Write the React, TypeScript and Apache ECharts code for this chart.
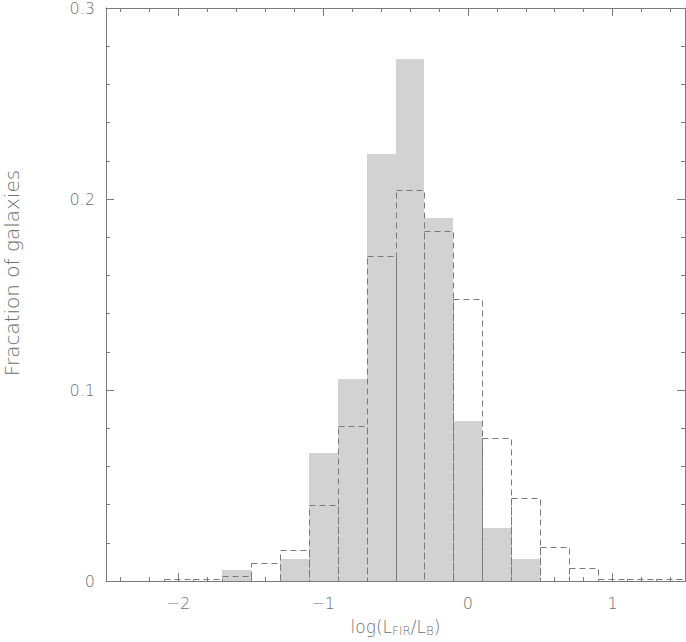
import React, { useEffect, useRef } from "react";
import * as echarts from "echarts";

// Histogram bin edges (log(L_FIR/L_B)), width 0.2
const binEdges = [-2.1, -1.9, -1.7, -1.5, -1.3, -1.1, -0.9, -0.7, -0.5, -0.3, -0.1, 0.1, 0.3, 0.5, 0.7, 0.9, 1.1, 1.3, 1.5];
// Filled (gray) histogram
const filledValues = [0, 0, 0.0055, 0, 0.0116, 0.067, 0.106, 0.2235, 0.2735, 0.1898, 0.0836, 0.0278, 0.0116, 0, 0, 0, 0, 0];
// Dashed histogram
const dashedValues = [0.001, 0.001, 0.0024, 0.0093, 0.016, 0.04, 0.081, 0.170, 0.2045, 0.183, 0.1477, 0.0748, 0.0434, 0.0176, 0.0067, 0.0013, 0.0013, 0.0013];

const xMajorTicks = [-2, -1, 0, 1];
const xMinorTicks = [-2.4, -2.2, -1.8, -1.6, -1.4, -1.2, -0.8, -0.6, -0.4, -0.2, 0.2, 0.4, 0.6, 0.8, 1.2, 1.4];
const xTitle = "log(L{sub|FIR}/L{sub|B})";
const yTitle = "Fracation of galaxies";

const AXIS_COLOR = "#7a7a7a";
const TEXT_COLOR = "#707070";
const FONT = "DejaVu Sans";
const WEIGHT = 200;

function toData(values: number[]) {
  return values.map((v, i) => [binEdges[i], binEdges[i + 1], v]);
}

export default function App() {
  const ref = useRef<HTMLDivElement>(null);
  useEffect(() => {
    if (!ref.current) return;
    const chart = echarts.init(ref.current, null, { renderer: "svg" });

    const snap = (v: number) => Math.round(v) + 0.5;

    const baseX = {
      type: "value" as const,
      min: -2.5,
      max: 1.5,
      splitLine: { show: false },
    };
    const lineOn = { show: true, onZero: false, lineStyle: { color: AXIS_COLOR, width: 1 } };
    const lineOff = { show: false, onZero: false };

    const option: any = {
      animation: false,
      backgroundColor: "#ffffff",
      grid: { left: 106, right: 1, top: 8, bottom: 55, containLabel: false },
      xAxis: [
        {
          ...baseX,
          position: "bottom",
          axisLine: lineOn,
          axisTick: { show: true, inside: true, length: 8, customValues: xMajorTicks, lineStyle: { color: AXIS_COLOR } },
          axisLabel: {
            show: true,
            customValues: xMajorTicks,
            margin: 14,
            fontSize: 16,
            fontFamily: FONT,
            fontWeight: WEIGHT,
            color: TEXT_COLOR,
            formatter: (v: number) => (v < 0 ? "\u2212" + Math.abs(v) : String(v)),
          },
          name: xTitle,
          nameLocation: "middle",
          nameGap: 35,
          nameTextStyle: {
            fontSize: 17,
            fontFamily: FONT,
            fontWeight: WEIGHT,
            color: TEXT_COLOR,
            rich: {
              sub: { fontSize: 12, fontFamily: FONT, fontWeight: WEIGHT, color: TEXT_COLOR, padding: [9, 0, 0, 0] },
            },
          },
        },
        {
          ...baseX,
          position: "bottom",
          axisLine: lineOff,
          axisTick: { show: true, inside: true, length: 4, customValues: xMinorTicks, lineStyle: { color: AXIS_COLOR } },
          axisLabel: { show: false },
        },
        {
          ...baseX,
          position: "top",
          axisLine: lineOn,
          axisTick: { show: true, inside: true, length: 8, customValues: xMajorTicks, lineStyle: { color: AXIS_COLOR } },
          axisLabel: { show: false },
        },
        {
          ...baseX,
          position: "top",
          axisLine: lineOff,
          axisTick: { show: true, inside: true, length: 4, customValues: xMinorTicks, lineStyle: { color: AXIS_COLOR } },
          axisLabel: { show: false },
        },
      ],
      yAxis: [
        {
          type: "value",
          position: "left",
          min: 0,
          max: 0.3,
          interval: 0.1,
          splitLine: { show: false },
          axisLine: lineOn,
          axisTick: { show: true, inside: true, length: 8, lineStyle: { color: AXIS_COLOR } },
          minorTick: { show: true, splitNumber: 5, length: 4, lineStyle: { color: AXIS_COLOR } },
          axisLabel: {
            margin: 11,
            fontSize: 16,
            fontFamily: FONT,
            fontWeight: WEIGHT,
            color: TEXT_COLOR,
            formatter: (v: number) => (v === 0 ? "0" : v.toFixed(1)),
          },
        },
        {
          type: "value",
          position: "right",
          min: 0,
          max: 0.3,
          interval: 0.1,
          splitLine: { show: false },
          axisLine: lineOn,
          axisTick: { show: true, inside: true, length: 8, lineStyle: { color: AXIS_COLOR } },
          minorTick: { show: true, splitNumber: 5, length: 4, lineStyle: { color: AXIS_COLOR } },
          axisLabel: { show: false },
        },
      ],
      graphic: [
        {
          type: "text",
          x: 12,
          y: 273,
          rotation: Math.PI / 2,
          style: {
            text: yTitle,
            fontSize: 20,
            fontFamily: FONT,
            fontWeight: WEIGHT,
            fill: TEXT_COLOR,
            align: "center",
            verticalAlign: "middle",
          },
        },
      ],
      series: [
        {
          type: "custom",
          xAxisIndex: 0,
          yAxisIndex: 0,
          encode: { x: [0, 1], y: 2 },
          data: toData(filledValues),
          z: 2,
          renderItem: (params: any, api: any) => {
            const v = api.value(2);
            if (!v) return null;
            const p0 = api.coord([api.value(0), v]);
            const p1 = api.coord([api.value(1), 0]);
            const x0 = Math.round(p0[0]);
            const x1 = Math.round(p1[0]);
            const y0 = Math.round(p0[1]);
            const y1 = Math.round(p1[1]);
            return {
              type: "rect",
              shape: { x: x0, y: y0, width: x1 - x0, height: y1 - y0 },
              style: { fill: "#d2d2d2", stroke: "none" },
            };
          },
        },
        {
          type: "custom",
          xAxisIndex: 0,
          yAxisIndex: 0,
          encode: { x: [0, 1], y: 2 },
          data: toData(dashedValues),
          z: 3,
          renderItem: (params: any, api: any) => {
            const v = api.value(2);
            const p0 = api.coord([api.value(0), v]);
            const p1 = api.coord([api.value(1), 0]);
            const x0 = snap(p0[0]);
            const x1 = snap(p1[0]);
            const y0 = snap(p0[1]);
            const y1 = snap(p1[1]);
            return {
              type: "rect",
              shape: { x: x0, y: y0, width: x1 - x0, height: y1 - y0 },
              style: { fill: "none", stroke: "#7a7a7a", lineWidth: 1, lineDash: [6, 4] },
            };
          },
        },
      ],
    };

    chart.setOption(option);
    return () => chart.dispose();
  }, []);

  return (
    <div
      ref={ref}
      style={{ position: "absolute", left: 0, top: 0, width: 686, height: 642, background: "#fff" }}
    />
  );
}
